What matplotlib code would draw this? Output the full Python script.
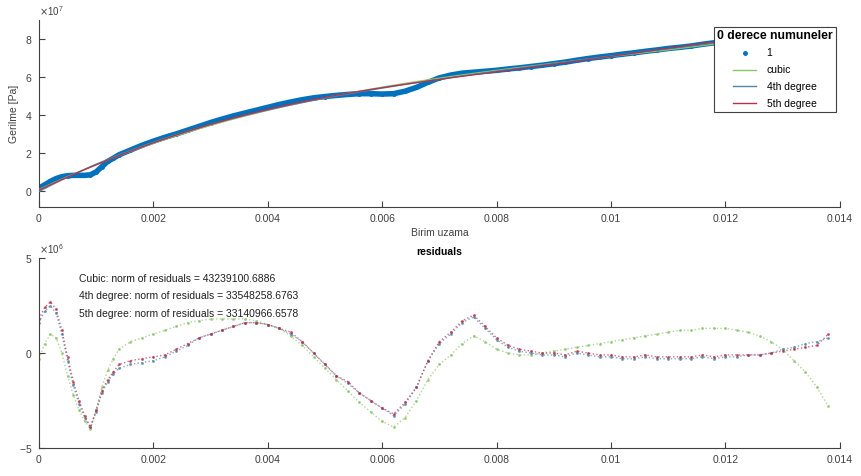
import numpy as np
import matplotlib
matplotlib.use('Agg')
import matplotlib.pyplot as plt
from matplotlib.lines import Line2D
from matplotlib.ticker import ScalarFormatter

plt.rcParams['font.family'] = ['Liberation Sans', 'DejaVu Sans']

# strain grid (finer near the first dip)
strain = np.round(np.concatenate([np.arange(0, 0.00141, 0.0001),
                                  np.arange(0.0016, 0.01381, 0.0002)]), 5)

# stress, units of 1e7 Pa
stress = [0.15, 0.32, 0.5, 0.65, 0.75, 0.8, 0.82, 0.82, 0.82, 0.85, 1.0, 1.28, 1.55, 1.72, 1.9,
          2.15, 2.4, 2.62, 2.82, 3.0, 3.2, 3.4, 3.6, 3.78, 3.95, 4.1, 4.25, 4.4, 4.55, 4.68,
          4.8, 4.9, 4.97, 5.03, 5.08, 5.12, 5.12, 5.1, 5.12, 5.25, 5.45, 5.72, 5.95, 6.1,
          6.2, 6.25, 6.3, 6.35, 6.42, 6.48, 6.55, 6.62, 6.7, 6.78, 6.88, 6.97, 7.05, 7.12,
          7.2, 7.27, 7.35, 7.42, 7.5, 7.56, 7.63, 7.72, 7.8, 7.88, 7.96, 8.03, 8.1, 8.17,
          8.22, 8.27, 8.32, 8.38, 8.45]

# residuals, units of 1e6 Pa
res_cubic = [-0.3, 0.5, 1.0, 0.8, 0.0, -1.2, -2.2, -3.0, -3.6, -4.0, -3.0, -1.8, -0.9, -0.3, 0.2,
             0.6, 0.8, 1.0, 1.2, 1.4, 1.6, 1.7, 1.8, 1.8, 1.8, 1.8, 1.7, 1.5, 1.3, 0.9,
             0.4, -0.2, -0.8, -1.4, -2.0, -2.6, -3.1, -3.6, -3.9, -3.4, -2.5, -1.4, -0.6, -0.1,
             0.5, 0.9, 0.6, 0.2, 0.0, -0.1, -0.1, 0.0, 0.1, 0.2, 0.3, 0.4, 0.5, 0.6,
             0.7, 0.8, 0.9, 1.0, 1.1, 1.2, 1.2, 1.3, 1.3, 1.3, 1.2, 1.1, 0.9, 0.6,
             0.2, -0.4, -1.0, -1.8, -2.8]
res_4th = [1.6, 2.2, 2.5, 2.1, 1.0, -0.4, -1.7, -2.7, -3.4, -3.9, -3.1, -2.1, -1.5, -1.1, -0.8,
           -0.6, -0.5, -0.4, -0.2, 0.1, 0.4, 0.8, 1.0, 1.2, 1.4, 1.6, 1.6, 1.5, 1.3, 1.0,
           0.6, 0.0, -0.6, -1.2, -1.6, -2.1, -2.5, -2.9, -3.3, -2.7, -1.8, -0.4, 0.5, 1.0,
           1.6, 1.9, 1.3, 0.7, 0.3, 0.1, 0.0, -0.1, -0.1, -0.2, 0.0, -0.1, -0.2, -0.2,
           -0.3, -0.3, -0.2, -0.3, -0.3, -0.3, -0.3, -0.2, -0.3, -0.2, -0.2, -0.1, -0.1, 0.0,
           0.2, 0.3, 0.5, 0.6, 0.8]
res_5th = [1.8, 2.4, 2.7, 2.3, 1.2, -0.2, -1.5, -2.5, -3.3, -3.9, -3.0, -2.0, -1.4, -1.0, -0.6,
           -0.4, -0.3, -0.2, -0.1, 0.2, 0.5, 0.8, 1.0, 1.2, 1.4, 1.6, 1.6, 1.5, 1.3, 1.1,
           0.6, 0.0, -0.6, -1.2, -1.5, -2.1, -2.5, -2.9, -3.2, -2.6, -1.8, -0.4, 0.6, 1.1,
           1.7, 2.0, 1.4, 0.8, 0.4, 0.2, 0.1, 0.0, 0.0, -0.1, 0.1, 0.0, -0.1, -0.1,
           -0.2, -0.2, -0.1, -0.2, -0.2, -0.2, -0.2, -0.1, -0.2, -0.1, -0.1, -0.1, -0.1, 0.0,
           0.1, 0.2, 0.3, 0.4, 1.0]

norm_texts = ['Cubic: norm of residuals = 43239100.6886',
              '4th degree: norm of residuals = 33548258.6763',
              '5th degree: norm of residuals = 33140966.6578']
fit_names = ['cubic', '4th degree', '5th degree']
fit_degrees = [3, 4, 5]
fit_colors = ['#8cc46a', '#4f86a8', '#b8304a']
xticks = [0, 0.002, 0.004, 0.006, 0.008, 0.01, 0.012, 0.014]
xticklabels = ['0', '0.002', '0.004', '0.006', '0.008', '0.01', '0.012', '0.014']

stress_pa = np.array(stress) * 1e7
data_blue = (0.0, 0.447, 0.741)
grey = '#404040'

fig = plt.figure(figsize=(8.62, 4.76), dpi=100)
ax1 = fig.add_axes([0.0452, 0.565, 0.929, 0.393])
ax2 = fig.add_axes([0.0452, 0.0588, 0.929, 0.399])

# top: data and fits
ax1.plot(strain, stress_pa, '-', color=data_blue, lw=4, marker='o', ms=2.5,
         solid_joinstyle='round', zorder=2)
xf = np.linspace(strain[0], strain[-1], 300)
for deg, col in zip(fit_degrees, fit_colors):
    p = np.polyfit(strain, stress_pa, deg)
    ax1.plot(xf, np.polyval(p, xf), '-', color=col, lw=0.9, zorder=3)

handles = [Line2D([], [], ls='none', marker='.', ms=5, color=data_blue)]
handles += [Line2D([], [], color=c, lw=1) for c in fit_colors]
leg = ax1.legend(handles, ['1'] + fit_names, title='0 derece numuneler',
                 loc='upper right', bbox_to_anchor=(0.995, 0.965), fontsize=7.5,
                 title_fontproperties={'weight': 'bold', 'size': 8.8},
                 frameon=True, fancybox=False, framealpha=1, borderpad=0.3,
                 labelspacing=0.65, handlelength=2.2, handletextpad=1.0,
                 borderaxespad=0)
leg.get_frame().set_edgecolor(grey)
leg.get_frame().set_linewidth(0.8)
leg.set_zorder(5)

ax1.set_xlim(0, 0.014)
ax1.set_ylim(-0.85e7, 9e7)
ax1.set_yticks([0, 2e7, 4e7, 6e7, 8e7])
ax1.set_ylabel('Gerilme [Pa]', fontsize=7.5, color=grey, labelpad=4)
ax1.set_xlabel('Birim uzama', fontsize=7.5, color=grey, labelpad=3)

# bottom: residuals
res_all = [res_cubic, res_4th, res_5th]
for res, col in zip(res_all, fit_colors):
    ax2.plot(strain, np.array(res) * 1e6, ls=':', lw=1.0, color=col,
             marker='.', ms=2.2, alpha=0.7)
for i, t in enumerate(norm_texts):
    ax2.text(0.05, 0.89 - i * 0.092, t, transform=ax2.transAxes, fontsize=7.5,
             color='#202020', va='center', ha='left')
ax2.set_xlim(0, 0.014)
ax2.set_ylim(-5e6, 5e6)
ax2.set_yticks([-5e6, 0, 5e6])
ax2.set_title('residuals', fontsize=7.5, fontweight='bold', pad=2)

for ax in (ax1, ax2):
    ax.set_xticks(xticks)
    ax.set_xticklabels(xticklabels)
    fmt = ScalarFormatter(useMathText=True)
    fmt.set_powerlimits((0, 0))
    ax.yaxis.set_major_formatter(fmt)
    ax.yaxis.get_offset_text().set_fontsize(7)
    ax.yaxis.get_offset_text().set_color(grey)
    ax.spines['top'].set_visible(False)
    ax.spines['right'].set_visible(False)
    for s in ('left', 'bottom'):
        ax.spines[s].set_color(grey)
        ax.spines[s].set_linewidth(0.8)
    ax.tick_params(direction='in', length=4, width=0.8, colors=grey,
                   labelsize=7.5, pad=5)

fig.savefig('out.png', dpi=100)
